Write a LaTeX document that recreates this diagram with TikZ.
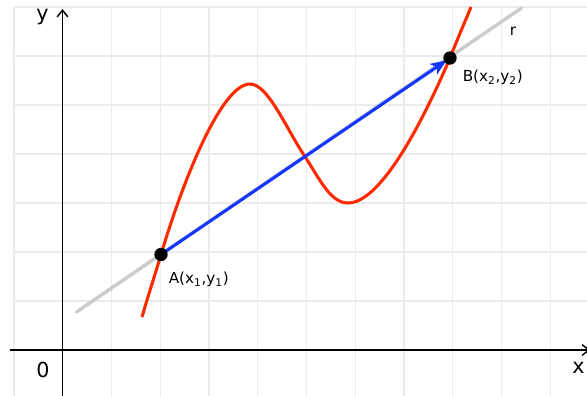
\documentclass[tikz,border=0pt]{standalone}
\usepackage{fontspec}
\setmainfont{DejaVu Sans}
\usetikzlibrary{arrows.meta}
\definecolor{gridc}{HTML}{EBEBEB}
\definecolor{curvered}{HTML}{FF2A00}
\definecolor{vecblue}{HTML}{1436FF}
\definecolor{linegray}{HTML}{CCCCCC}
\tikzset{
  gridline/.style={draw=gridc, line width=0.8pt},
  axis/.style={draw=black, line width=1.1pt},
  curve/.style={draw=curvered, line width=2.3pt},
  vec/.style={draw=vecblue, line width=2.3pt, -{Stealth[length=12pt,width=9.5pt,inset=3pt]}},
  rline/.style={draw=linegray, line width=2.6pt, line cap=round},
  dot/.style={circle, fill=black, inner sep=0pt, minimum size=10pt},
  ptlabel/.style={font=\fontsize{11.4}{13}\selectfont, inner sep=0pt, anchor=base west},
  axlabel/.style={font=\fontsize{15.5}{18}\selectfont, inner sep=0pt},
}
\begin{document}
\begin{tikzpicture}[x=0.75pt,y=-0.75pt]
\useasboundingbox (0,0) rectangle (587,396);
\clip (0,0) rectangle (587,396);
% grid
\foreach \k in {0,...,11} {
  \draw[gridline] ({14+48.75*\k},7) -- ({14+48.75*\k},396);
}
\foreach \k in {0,...,7} {
  \draw[gridline] (14,{350-49*\k}) -- (587,{350-49*\k});
}
% axes
\coordinate (xs) at (10,350);
\coordinate (xe) at (590,350);
\coordinate (ys) at (62.5,396);
\coordinate (ye) at (62.5,9);
\draw[axis, -{Straight Barb[length=5pt,width=8pt]}] (xs) -- (xe);
\draw[axis, -{Straight Barb[length=5pt,width=8pt]}] (ys) -- (ye);
\node[axlabel] (ylab) at (42.5,16.7) {y};
\node[axlabel] (zero) at (43,370) {0};
\node[axlabel] (xlab) at (578.5,367.5) {x};
% points
\coordinate (A) at (161,254.5);
\coordinate (B) at (450,58);
\coordinate (rs) at (76.5,312);
\coordinate (re) at (521.5,8);
% line r
\draw[rline] (rs) -- (re);
\node[ptlabel] (rlab) at (509.5,36) {r};
% curve
\draw[curve] (142,317) .. controls (148,296) and (155,275) .. (A)
  .. controls (186,171) and (223,84) .. (250,84)
  .. controls (268,84) and (285.6,127.6) .. (305,156.7)
  .. controls (318.9,177.5) and (330,203) .. (348,203)
  .. controls (385,203) and (432,100) .. (B)
  .. controls (457,40) and (464,24) .. (471,7);
% vector
\draw[vec, shorten >=3pt] (A) -- (B);
% dots
\node[dot] (dA) at (A) {};
\node[dot] (dB) at (B) {};
\node[ptlabel] (Alab) at (168.5,283.3) {A(x\textsubscript{1},y\textsubscript{1})};
\node[ptlabel] (Blab) at (462.5,81.7) {B(x\textsubscript{2},y\textsubscript{2})};
\end{tikzpicture}
\end{document}
